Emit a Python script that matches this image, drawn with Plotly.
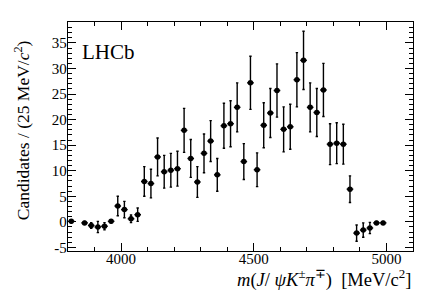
import plotly.graph_objects as go

mass = [3812.5] + [3862.5 + 25 * i for i in range(46)]
counts = [0.1, -0.2, -0.7, -1.0, -0.85, 0.1, 3.1, 2.4, 0.6, 1.4,
          7.9, 7.5, 12.7, 9.8, 10.1, 10.4, 17.9, 12.4, 7.8, 13.4,
          15.8, 9.2, 18.8, 19.2, 22.4, 11.8, 27.2, 10.2, 18.9, 21.3,
          25.7, 18.1, 18.6, 27.8, 31.6, 22.4, 21.4, 25.8, 15.2, 15.4,
          15.2, 6.4, -2.2, -1.6, -1.2, -0.2, -0.2]
errors = [0.3, 0.3, 0.56, 1.1, 0.7, 0.3, 1.9, 1.6, 0.75, 1.3,
          2.9, 2.8, 3.7, 3.2, 3.3, 3.4, 4.3, 3.7, 3.0, 3.8,
          4.0, 3.2, 4.4, 4.5, 4.8, 3.5, 5.2, 3.3, 4.4, 4.8,
          5.2, 4.4, 4.4, 5.3, 5.7, 4.8, 4.7, 5.2, 4.0, 4.0,
          3.9, 2.6, 1.6, 1.4, 1.1, 0.3, 0.3]
half_bin = [12.5] * len(mass)

x_ticks = [4000, 4500, 5000]
y_ticks = [-5, 0, 5, 10, 15, 20, 25, 30, 35]

FONT = "Liberation Serif"

fig = go.Figure()
fig.add_trace(go.Scatter(
    x=mass, y=counts, mode="markers",
    marker=dict(color="black", size=5.5, symbol="circle"),
    error_y=dict(type="data", array=errors, visible=True, color="black", thickness=1.4, width=1.2),
    error_x=dict(type="data", array=half_bin, visible=True, color="black", thickness=1.4, width=0),
    showlegend=False,
))

axis_common = dict(
    showline=True, linecolor="black", linewidth=1.3, mirror="ticks",
    ticks="inside", ticklen=8, tickwidth=1, tickcolor="black",
    showgrid=False, zeroline=False,
    tickfont=dict(family=FONT, size=15, color="black"),
)

fig.update_xaxes(range=[3800, 5100], tickvals=x_ticks, ticktext=[str(v) for v in x_ticks],
                 minor=dict(dtick=100, tick0=3800, ticks="inside", ticklen=4, tickcolor="black", tickwidth=1),
                 ticklabelstandoff=-6,
                 **axis_common)
fig.update_yaxes(range=[-5.7, 39.1], tickvals=y_ticks, ticktext=[str(v) for v in y_ticks],
                 minor=dict(dtick=1, tick0=0, ticks="inside", ticklen=4, tickcolor="black", tickwidth=1),
                 ticklabelstandoff=-3,
                 **axis_common)

fig.update_layout(
    width=427, height=290,
    margin=dict(l=60, r=22, t=14, b=47),
    paper_bgcolor="white", plot_bgcolor="white",
    font=dict(family=FONT, color="black"),
    annotations=[
        dict(text="LHCb", x=0.035, y=0.93, xref="paper", yref="paper",
             xanchor="left", yanchor="top", showarrow=False,
             font=dict(family=FONT, size=21, color="black")),
        dict(text="<i>m</i>(<i>J</i>/ <i>ψK</i><sup>±</sup><i>π</i><sup>∓</sup>)  [MeV/c<sup>2</sup>]",
             x=1.0, y=-0.12, xref="paper", yref="paper",
             xanchor="right", yanchor="middle", showarrow=False,
             font=dict(family=FONT, size=18.5, color="black")),
        dict(text="Candidates / (25 MeV/<i>c</i><sup>2</sup>)",
             x=-0.133, y=0.528, xref="paper", yref="paper", textangle=-90,
             xanchor="center", yanchor="middle", showarrow=False,
             font=dict(family=FONT, size=17.5, color="black")),
    ],
)

fig.write_html("out.html")
